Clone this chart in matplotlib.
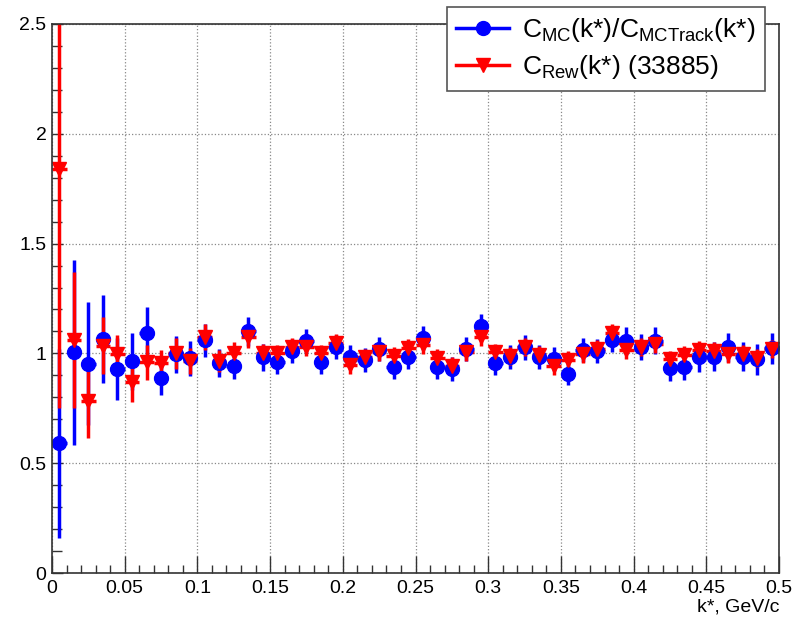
import numpy as np
import matplotlib
matplotlib.use("Agg")
import matplotlib.pyplot as plt
from matplotlib.lines import Line2D
from matplotlib.ticker import MultipleLocator, FormatStrFormatter

plt.rcParams['font.family'] = ['Liberation Sans', 'DejaVu Sans']
plt.rcParams['mathtext.default'] = 'regular'

# bin centres of k* (GeV/c)
kstar = [0.005, 0.015, 0.025, 0.035, 0.045, 0.055, 0.065, 0.075, 0.085, 0.095,
         0.105, 0.115, 0.125, 0.135, 0.145, 0.155, 0.165, 0.175, 0.185, 0.195,
         0.205, 0.215, 0.225, 0.235, 0.245, 0.255, 0.265, 0.275, 0.285, 0.295,
         0.305, 0.315, 0.325, 0.335, 0.345, 0.355, 0.365, 0.375, 0.385, 0.395,
         0.405, 0.415, 0.425, 0.435, 0.445, 0.455, 0.465, 0.475, 0.485, 0.495]
bin_half = 0.005

# C_MC / C_MCTrack
c_mc = [0.59, 1.005, 0.953, 1.065, 0.93, 0.965, 1.093, 0.89, 0.995, 0.977,
        1.06, 0.956, 0.944, 1.10, 0.982, 0.96, 1.01, 1.058, 0.96, 1.03,
        0.982, 0.97, 1.02, 0.94, 0.985, 1.072, 0.937, 0.93, 1.02, 1.125,
        0.958, 0.982, 1.027, 0.985, 0.973, 0.905, 1.015, 1.01, 1.061, 1.058,
        1.028, 1.058, 0.933, 0.937, 0.982, 0.985, 1.028, 0.985, 0.973, 1.023]
c_mc_err = [0.43, 0.42, 0.28, 0.20, 0.14, 0.13, 0.12, 0.08, 0.085, 0.08,
            0.075, 0.065, 0.06, 0.065, 0.06, 0.055, 0.055, 0.055, 0.055, 0.055,
            0.055, 0.055, 0.055, 0.055, 0.055, 0.055, 0.055, 0.055, 0.055, 0.055,
            0.055, 0.055, 0.055, 0.055, 0.055, 0.05, 0.055, 0.055, 0.055, 0.06,
            0.06, 0.06, 0.06, 0.06, 0.065, 0.065, 0.065, 0.065, 0.07, 0.07]

# C_Rew (33885)
c_rew = [1.84, 1.06, 0.784, 1.035, 0.995, 0.868, 0.96, 0.956, 1.0, 0.965,
         1.075, 0.965, 1.0, 1.073, 1.0, 1.0, 1.03, 1.03, 1.0, 1.049,
         0.947, 0.982, 1.005, 0.988, 1.026, 1.038, 0.978, 0.943, 1.005, 1.073,
         1.005, 0.988, 1.03, 0.993, 0.943, 0.97, 0.997, 1.019, 1.094, 1.015,
         1.03, 1.043, 0.973, 0.993, 1.015, 1.01, 0.997, 0.997, 0.978, 1.019]
c_rew_err = [1.09, 0.31, 0.17, 0.13, 0.09, 0.09, 0.08, 0.06, 0.07, 0.06,
             0.06, 0.05, 0.05, 0.05, 0.045, 0.04, 0.04, 0.04, 0.04, 0.04,
             0.04, 0.04, 0.04, 0.04, 0.04, 0.04, 0.04, 0.04, 0.04, 0.04,
             0.04, 0.04, 0.04, 0.04, 0.04, 0.04, 0.04, 0.04, 0.04, 0.04,
             0.04, 0.04, 0.04, 0.04, 0.04, 0.04, 0.04, 0.04, 0.04, 0.04]

blue = '#0000ff'
red = '#ff0000'

fig = plt.figure(figsize=(7.94, 6.21), dpi=100)
ax = fig.add_axes([52/794, 48/621, 727/794, 549/621])

ax.errorbar(kstar, c_mc, yerr=c_mc_err, xerr=bin_half, fmt='o', color=blue,
            ms=10, elinewidth=2.5, capsize=0)
ax.errorbar(kstar, c_rew, yerr=c_rew_err, xerr=bin_half, fmt='v', color=red,
            ms=10, elinewidth=2.5, capsize=0)

ax.set_xlim(0, 0.5)
ax.set_ylim(0, 2.5)
ax.xaxis.set_major_locator(MultipleLocator(0.05))
ax.xaxis.set_minor_locator(MultipleLocator(0.01))
ax.yaxis.set_major_locator(MultipleLocator(0.5))
ax.yaxis.set_minor_locator(MultipleLocator(0.1))
ax.xaxis.set_major_formatter(FormatStrFormatter('%g'))
ax.yaxis.set_major_formatter(FormatStrFormatter('%g'))
ax.tick_params(which='both', direction='in', labelsize=14, top=False, right=False,
               width=1, color='#333333')
ax.tick_params(axis='x', which='major', length=12, pad=5)
ax.tick_params(axis='x', which='minor', length=6)
ax.tick_params(axis='y', which='major', length=8, pad=4)
ax.tick_params(axis='y', which='minor', length=7)
for sp in ax.spines.values():
    sp.set_linewidth(1.2)
    sp.set_color('#333333')
ax.grid(True, which='major', linestyle=':', color='#888888', linewidth=0.9)

ax.set_xlabel('k*, GeV/c', fontsize=14, loc='right', labelpad=1)

handles = [Line2D([], [], color=blue, marker='o', ms=10, lw=2.5),
           Line2D([], [], color=red, marker='v', ms=10, lw=2.5)]
labels = ['C$_{MC}$(k*)/C$_{MCTrack}$(k*)', 'C$_{Rew}$(k*) (33885)']
leg = ax.legend(handles, labels, loc='upper left', bbox_to_anchor=(447/794, 1 - 7/621),
                bbox_transform=fig.transFigure, fontsize=19, frameon=True,
                fancybox=False, borderpad=0.35, labelspacing=0.35,
                handlelength=2.0, handletextpad=0.5, borderaxespad=0,
                framealpha=1)
leg.get_frame().set_edgecolor('#555555')
leg.get_frame().set_linewidth(1.2)

fig.savefig('out.png', dpi=100)
